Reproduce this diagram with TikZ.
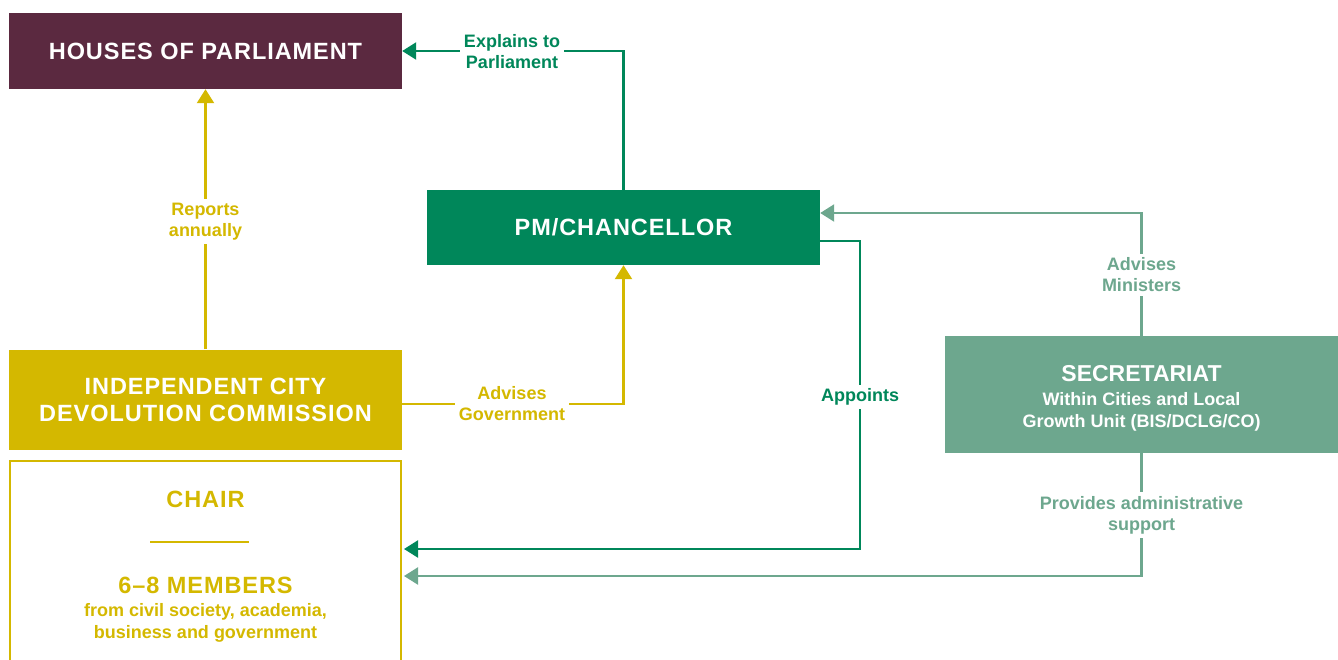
\documentclass[tikz,border=0pt]{standalone}
\usepackage{fontspec}
\setmainfont{Liberation Sans}
\newfontfamily\titlefont[LetterSpace=4]{Liberation Sans}
\usetikzlibrary{arrows.meta}
\definecolor{maroon}{HTML}{5B2940}
\definecolor{dgreen}{HTML}{00875A}
\definecolor{mustard}{HTML}{D4B800}
\definecolor{sage}{HTML}{6DA78E}
\tikzset{
  box/.style={draw=none, inner sep=0pt, minimum width=393pt, text=white, align=center,
    font=\titlefont\bfseries\fontsize{23.5}{27}\selectfont},
  lbl/.style={fill=white, inner sep=4pt, align=center, font=\bfseries\fontsize{18}{21}\selectfont},
  conn/.style={line width=2.3pt, -{Triangle[length=14pt,width=17pt]}},
  gline/.style={conn, draw=dgreen},
  yline/.style={conn, draw=mustard},
  sline/.style={conn, draw=sage},
}
\begin{document}
\begin{tikzpicture}[x=1pt,y=-1pt]
\useasboundingbox (0,0) rectangle (1338,659);
% boxes
\node[box, fill=maroon, minimum height=76pt] (hop) at (205.5,51) {HOUSES OF PARLIAMENT};
\node[box, fill=dgreen, minimum height=75pt] (pm) at (623.5,227.5) {PM/CHANCELLOR};
\node[box, fill=mustard, minimum height=100pt] (com) at (205.5,399.5) {INDEPENDENT CITY\\DEVOLUTION COMMISSION};
\node[box, fill=sage, minimum height=117pt] (sec) at (1141.5,394.5) {};
\node[draw=mustard, line width=2pt, minimum width=391pt, minimum height=230pt, inner sep=0pt] (chair) at (205.5,576) {};
% secretariat text
\node[text=white, font=\bfseries\fontsize{23}{26}\selectfont, inner sep=0pt] (sect) at (1141.5,374) {SECRETARIAT};
\node[text=white, align=center, font=\bfseries\fontsize{18}{22}\selectfont, inner sep=0pt] (secs) at (1141.5,412) {Within Cities and Local\\Growth Unit (BIS/DCLG/CO)};
% chair text
\node[text=mustard, font=\titlefont\bfseries\fontsize{23.5}{27}\selectfont, inner sep=0pt] (ct) at (205.5,499) {CHAIR};
\draw[mustard, line width=2pt] (150,542) -- (249,542);
\node[text=mustard, font=\titlefont\bfseries\fontsize{23.5}{27}\selectfont, inner sep=0pt] (mt) at (205.5,585) {6–8 MEMBERS};
\node[text=mustard, align=center, font=\bfseries\fontsize{18}{22}\selectfont, inner sep=0pt] (ms) at (205.5,623) {from civil society, academia,\\business and government};
% connector coordinates
\coordinate (gturn) at (860,241);
\coordinate (ya) at (0,549);
\coordinate (yb) at (0,576);
% connectors
\draw[gline] (pm.north) |- (hop.east);
\draw[yline] (com.north) -- (hop.south);
\draw[yline] ([yshift=-4.5pt]com.east) -| (pm.south);
\draw[sline] (sec.north) |- ([yshift=14.5pt]pm.east);
\draw[gline] (pm.east |- gturn) -- (gturn) |- ([xshift=2pt]chair.east |- ya);
\draw[sline] (sec.south) |- ([xshift=2pt]chair.east |- yb);
% labels
\node[lbl, text=dgreen] (l1) at (512,51.5) {Explains to\\Parliament};
\node[lbl, text=mustard] (l2) at (205.5,221.5) {Reports\\annually};
\node[lbl, text=mustard] (l3) at (512,404) {Advises\\Government};
\node[lbl, text=dgreen] (l4) at (860,397) {Appoints};
\node[lbl, text=sage] (l5) at (1141.5,275) {Advises\\Ministers};
\node[lbl, text=sage] (l6) at (1141.5,515) {Provides administrative\\support};
\end{tikzpicture}
\end{document}
